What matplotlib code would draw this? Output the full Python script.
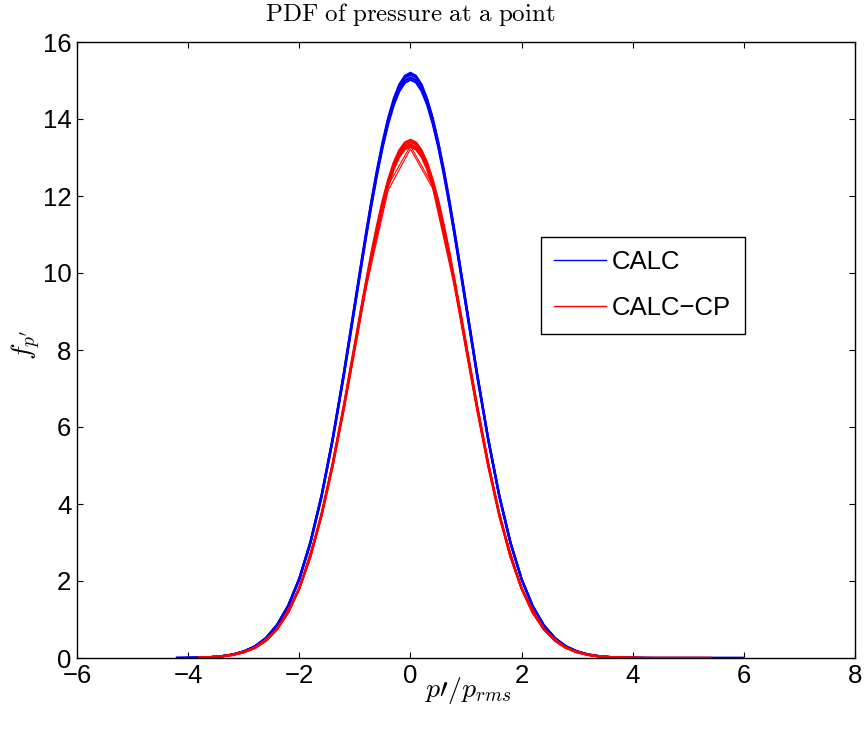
import numpy as np
import matplotlib
matplotlib.use("Agg")
import matplotlib.pyplot as plt

# ---------------- data ----------------
# CALC curves: x grid -4.2..-1.2 (0.2), -1.0..1.0 (0.1), 1.2..6.0 (0.2)
x_calc = ([round(-4.2 + 0.2 * i, 1) for i in range(16)]
          + [round(-1.0 + 0.1 * i, 1) for i in range(21)]
          + [round(1.2 + 0.2 * i, 1) for i in range(25)])
calc_1 = [0.002, 0.005, 0.011, 0.023, 0.047, 0.09, 0.17, 0.30, 0.52, 0.86, 1.36, 2.07, 3.02, 4.23, 5.70, 7.40,
          9.22, 10.14, 11.04, 11.90, 12.70, 13.41, 14.03, 14.53, 14.90, 15.12, 15.20, 15.12, 14.90, 14.53, 14.03, 13.41, 12.70, 11.90, 11.04, 10.14, 9.22,
          7.40, 5.70, 4.23, 3.01, 2.06, 1.35, 0.85, 0.52, 0.30, 0.17, 0.09, 0.047, 0.023, 0.011, 0.005, 0.002,
          0, 0, 0, 0, 0, 0, 0, 0, 0]
calc_2 = [0.002, 0.005, 0.011, 0.023, 0.047, 0.09, 0.17, 0.30, 0.52, 0.86, 1.36, 2.06, 3.01, 4.21, 5.69, 7.37,
          9.19, 10.10, 11.00, 11.86, 12.65, 13.37, 13.99, 14.48, 14.85, 15.07, 15.15, 15.08, 14.86, 14.49, 14.00, 13.38, 12.66, 11.87, 11.01, 10.11, 9.20,
          7.38, 5.69, 4.21, 3.00, 2.05, 1.35, 0.85, 0.52, 0.30, 0.17, 0.09, 0.047, 0.023, 0.011, 0.005, 0.002,
          0, 0, 0, 0, 0, 0, 0, 0, 0]
calc_3 = [0.002, 0.005, 0.011, 0.023, 0.047, 0.09, 0.17, 0.30, 0.51, 0.85, 1.35, 2.05, 2.99, 4.19, 5.66, 7.34,
          9.15, 10.06, 10.95, 11.80, 12.60, 13.31, 13.92, 14.42, 14.78, 15.00, 15.08, 15.01, 14.79, 14.43, 13.93, 13.32, 12.61, 11.81, 10.96, 10.07, 9.16,
          7.35, 5.67, 4.20, 2.99, 2.04, 1.34, 0.85, 0.51, 0.30, 0.17, 0.09, 0.047, 0.023, 0.011, 0.005, 0.002,
          0, 0, 0, 0, 0, 0, 0, 0, 0]
calc_4 = [0.002, 0.005, 0.011, 0.023, 0.046, 0.09, 0.17, 0.30, 0.51, 0.84, 1.34, 2.03, 2.97, 4.18, 5.64, 7.31,
          9.11, 10.02, 10.91, 11.76, 12.55, 13.26, 13.87, 14.36, 14.72, 14.94, 15.02, 14.95, 14.73, 14.37, 13.88, 13.27, 12.56, 11.77, 10.92, 10.03, 9.12,
          7.32, 5.65, 4.18, 2.98, 2.04, 1.34, 0.84, 0.51, 0.30, 0.17, 0.09, 0.046, 0.023, 0.011, 0.005, 0.002,
          0, 0, 0, 0, 0, 0, 0, 0, 0]

# CALC-CP fine curves: x grid -3.8..-1.2 (0.2), -1.0..1.0 (0.1), 1.2..5.4 (0.2)
x_cp = ([round(-3.8 + 0.2 * i, 1) for i in range(14)]
        + [round(-1.0 + 0.1 * i, 1) for i in range(21)]
        + [round(1.2 + 0.2 * i, 1) for i in range(22)])
cp_1 = [0.010, 0.021, 0.042, 0.08, 0.15, 0.27, 0.46, 0.76, 1.20, 1.82, 2.66, 3.74, 5.05, 6.55,
        8.16, 8.98, 9.77, 10.54, 11.24, 11.88, 12.43, 12.87, 13.19, 13.39, 13.46, 13.39, 13.19, 12.87, 12.43, 11.88, 11.24, 10.54, 9.77, 8.98, 8.16,
        6.55, 5.05, 3.74, 2.66, 1.82, 1.20, 0.76, 0.46, 0.27, 0.15, 0.08, 0.042, 0.021, 0.010, 0.005,
        0, 0, 0, 0, 0, 0, 0]
cp_2 = [0.010, 0.021, 0.041, 0.08, 0.15, 0.27, 0.46, 0.75, 1.19, 1.81, 2.65, 3.73, 5.03, 6.52,
        8.13, 8.94, 9.73, 10.49, 11.19, 11.83, 12.37, 12.81, 13.13, 13.33, 13.40, 13.34, 13.14, 12.82, 12.38, 11.84, 11.20, 10.50, 9.74, 8.95, 8.14,
        6.53, 5.04, 3.73, 2.65, 1.81, 1.19, 0.75, 0.46, 0.27, 0.15, 0.08, 0.041, 0.021, 0.010, 0.004,
        0, 0, 0, 0, 0, 0, 0]
cp_3 = [0.010, 0.020, 0.041, 0.08, 0.15, 0.26, 0.45, 0.75, 1.19, 1.81, 2.64, 3.71, 5.01, 6.49,
        8.09, 8.90, 9.69, 10.44, 11.14, 11.77, 12.31, 12.75, 13.08, 13.27, 13.34, 13.27, 13.08, 12.76, 12.32, 11.78, 11.15, 10.45, 9.70, 8.91, 8.10,
        6.50, 5.02, 3.72, 2.64, 1.81, 1.19, 0.75, 0.45, 0.26, 0.15, 0.08, 0.041, 0.020, 0.010, 0.004,
        0, 0, 0, 0, 0, 0, 0]
cp_4 = [0.010, 0.020, 0.041, 0.08, 0.15, 0.26, 0.45, 0.75, 1.18, 1.80, 2.63, 3.69, 4.98, 6.46,
        8.05, 8.86, 9.64, 10.39, 11.09, 11.72, 12.26, 12.70, 13.02, 13.21, 13.28, 13.21, 13.02, 12.70, 12.26, 11.72, 11.09, 10.39, 9.64, 8.86, 8.05,
        6.46, 4.98, 3.69, 2.63, 1.80, 1.18, 0.75, 0.45, 0.26, 0.15, 0.08, 0.041, 0.020, 0.010, 0.004,
        0, 0, 0, 0, 0, 0, 0]

# CALC-CP coarse curves
x_cp_a = [round(-3.6 + 0.4 * i, 1) for i in range(23)]
cp_a = [0.02, 0.08, 0.26, 0.75, 1.80, 3.70, 6.47, 9.66, 12.28,
        13.30,
        12.28, 9.66, 6.47, 3.70, 1.80, 0.75, 0.26, 0.08, 0.02, 0.004, 0, 0, 0]
x_cp_b = [round(-3.6 + 0.4 * i, 1) for i in range(23)]
cp_b = [0.02, 0.08, 0.26, 0.74, 1.79, 3.68, 6.43, 9.60, 12.15,
        13.22,
        12.20, 9.60, 6.43, 3.68, 1.79, 0.74, 0.26, 0.08, 0.02, 0.004, 0, 0, 0]

calc_series = [calc_1, calc_2, calc_3, calc_4]
cp_series = [(x_cp, cp_1), (x_cp, cp_2), (x_cp, cp_3), (x_cp, cp_4), (x_cp_a, cp_a), (x_cp_b, cp_b)]

x_ticks = [-6, -4, -2, 0, 2, 4, 6, 8]
y_ticks = [0, 2, 4, 6, 8, 10, 12, 14, 16]

# ---------------- plot ----------------
plt.rcParams['font.family'] = ['Liberation Sans', 'DejaVu Sans']
plt.rcParams['mathtext.fontset'] = 'cm'

W, H = 865, 729
fig = plt.figure(figsize=(W / 100, H / 100), dpi=100)
ax = fig.add_axes([77 / W, 1 - 658 / H, 778 / W, 616 / H])

for i, y in enumerate(calc_series):
    ax.plot(x_calc, y, color=(0, 0, 1), lw=1.6, label='CALC' if i == 0 else '_nolegend_')
for i, (xx, y) in enumerate(cp_series):
    ax.plot(xx, y, color=(1, 0, 0), lw=1.6 if i < 4 else 0.8,
            label='CALC\u2212CP' if i == 0 else '_nolegend_')

ax.set_xlim(-6, 8)
ax.set_ylim(0, 16)
ax.set_xticks(x_ticks)
ax.set_yticks(y_ticks)
ax.tick_params(direction='in', top=True, right=True, length=4, width=0.8,
               labelsize=18.5, pad=4)
for s in ax.spines.values():
    s.set_linewidth(1.0)

fig.text((77 + 0.428 * 778) / W, 1 - 21 / H, r'$\mathrm{PDF\ of\ pressure\ at\ a\ point}$',
         ha='center', va='baseline', fontsize=18)
fig.text(468 / W, 1 - 690 / H, r"$p\prime/p_{rms}$", ha='center', va='center', fontsize=20)
fig.text(26 / W, 1 - 345 / H, r"$f_{p'}$", ha='center', va='center', fontsize=20, rotation=90)

leg = ax.legend(loc='upper left', bbox_to_anchor=(464 / 778, 421 / 616), fontsize=18.5,
                frameon=True, fancybox=False, edgecolor='black', framealpha=1,
                borderaxespad=0, handlelength=2.0, handletextpad=0.25,
                labelspacing=0.85, borderpad=0.52)
leg.get_frame().set_linewidth(1.0)
for h in leg.get_lines():
    h.set_linewidth(1.0)

fig.savefig('out.png', dpi=100)
